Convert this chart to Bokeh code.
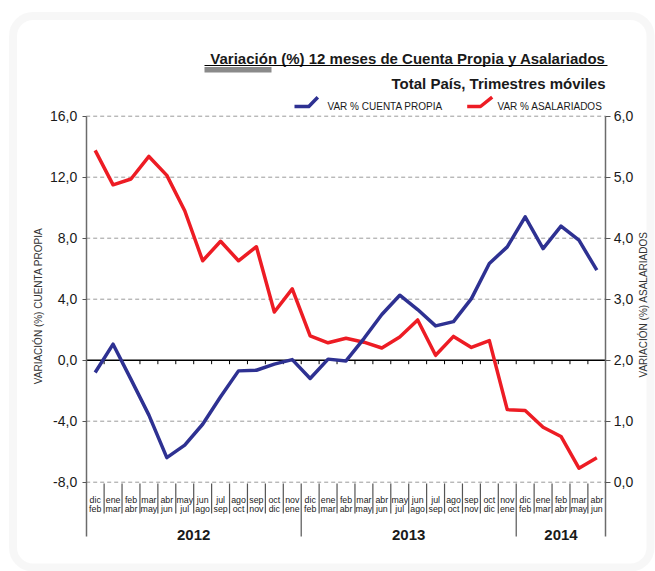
import math
from bokeh.plotting import figure
from bokeh.models import (Range1d, LinearAxis, FixedTicker, BoxAnnotation, CustomJSTickFormatter)
from bokeh.core.properties import value
from bokeh.embed import file_html
from bokeh.resources import INLINE

# ---------------- data ----------------
cat_top = ["dic", "ene", "feb", "mar", "abr", "may", "jun", "jul", "ago", "sep", "oct", "nov",
           "dic", "ene", "feb", "mar", "abr", "may", "jun", "jul", "ago", "sep", "oct", "nov",
           "dic", "ene", "feb", "mar", "abr"]
cat_bottom = ["feb", "mar", "abr", "may", "jun", "jul", "ago", "sep", "oct", "nov", "dic", "ene",
              "feb", "mar", "abr", "may", "jun", "jul", "ago", "sep", "oct", "nov", "dic", "ene",
              "feb", "mar", "abr", "may", "jun"]
years = ["2012", "2013", "2014"]
year_counts = [12, 12, 5]

cuenta_propia = [-0.81, 1.05, -1.26, -3.6, -6.39, -5.57, -4.2, -2.4, -0.70, -0.66, -0.26, 0.04,
                 -1.2, 0.07, -0.05, 1.42, 3.0, 4.26, 3.32, 2.25, 2.53, 4.04, 6.34, 7.43, 9.4,
                 7.32, 8.79, 7.87, 5.9]
asalariados = [5.44, 4.875, 4.97, 5.34, 5.03, 4.45, 3.63, 3.95, 3.63, 3.86, 2.79, 3.17, 2.40,
               2.285, 2.36, 2.295, 2.20, 2.38, 2.66, 2.08, 2.39, 2.21, 2.32, 1.19, 1.175, 0.90,
               0.75, 0.23, 0.40]

left_ticks = [-8, -4, 0, 4, 8, 12, 16]
right_ticks = [0, 1, 2, 3, 4, 5, 6]

title1 = "Variación (%) 12 meses de Cuenta Propia y Asalariados"
title2 = "Total País, Trimestres móviles"
name_cp = "VAR % CUENTA PROPIA"
name_as = "VAR % ASALARIADOS"
ylabel_left = "VARIACIÓN (%) CUENTA PROPIA"
ylabel_right = "VARIACIÓN (%) ASALARIADOS"

# ---------------- layout (canvas pixels) ----------------
W, H = 655, 571
N = len(cat_top)
AX_L, AX_R = 85.7, 605.3        # x pixel of left / right axis
Y_TOP, Y_BOT = 115.7, 481.7     # y pixel of top / bottom tick
L0, L1 = left_ticks[0], left_ticks[-1]
R0, R1 = right_ticks[0], right_ticks[-1]
XS = (AX_R - AX_L) / N
YS = (Y_BOT - Y_TOP) / (L1 - L0)

def xd(px):
    return (px - AX_L) / XS

def yd(py):
    return L1 - (py - Y_TOP) / YS

def to_right(v):
    return R0 + (v - L0) * (R1 - R0) / (L1 - L0)

FONT = "Liberation Sans"
BLUE = "#2E3192"
RED = "#ED1C24"
TXT = "#1a1a1a"

p = figure(width=W, height=H, output_backend="svg", toolbar_location=None,
           x_range=Range1d(xd(0), xd(W)), y_range=Range1d(yd(H), yd(0)),
           x_axis_location=None, y_axis_location=None, min_border=0)
p.outline_line_color = None
p.background_fill_color = "white"
p.border_fill_color = "white"
p.xgrid.visible = False
p.ygrid.visible = False

# rounded outer frame
p.add_layout(BoxAnnotation(left=xd(12.5), right=xd(650), top=yd(15.5), bottom=yd(567),
                           fill_color=None, line_color="#e4e4e4", line_width=8,
                           border_radius=20, level="underlay"))

fmt = CustomJSTickFormatter(code="return tick.toFixed(1).replace('.', ',');")
y_axis_bottom = yd(536)

def style_axis(a, tick_out, standoff):
    a.formatter = fmt
    a.axis_line_color = "#6b6b6b"
    a.axis_line_width = 1.5
    a.major_tick_line_color = "#555555"
    a.major_tick_out = tick_out
    a.major_tick_in = 0
    a.minor_tick_line_color = None
    a.major_label_standoff = standoff
    a.major_label_text_font = FONT
    a.major_label_text_font_size = "14px"
    a.major_label_text_color = TXT

lax = LinearAxis(ticker=FixedTicker(ticks=left_ticks), fixed_location=0,
                 bounds=(y_axis_bottom, L1))
style_axis(lax, 4, 5)
p.add_layout(lax, "left")

p.extra_y_ranges = {"right": Range1d(to_right(yd(H)), to_right(yd(0)))}
rax = LinearAxis(y_range_name="right", ticker=FixedTicker(ticks=right_ticks), fixed_location=N,
                 bounds=(to_right(y_axis_bottom), R1))
style_axis(rax, 5, 3)
p.add_layout(rax, "right")

# dashed grid
gt = [t for t in left_ticks if t != 0]
p.segment(x0=[0] * len(gt), y0=gt, x1=[N] * len(gt), y1=gt, line_color="#9a9a9a",
          line_width=1, line_dash="4 3")
# zero line and its small ticks
p.segment(x0=[0], y0=[0], x1=[N], y1=[0], line_color="black", line_width=1.5)
bounds = list(range(1, N))
tick_len = 4 / YS
p.segment(x0=bounds, y0=[0] * len(bounds), x1=bounds, y1=[-tick_len] * len(bounds),
          line_color="black", line_width=1)

# category separators / year separators
year_bounds = []
acc = 0
for c in year_counts[:-1]:
    acc += c
    year_bounds.append(acc)
sep_x = [b for b in bounds if b not in year_bounds]
p.segment(x0=sep_x, y0=[yd(483)] * len(sep_x), x1=sep_x, y1=[yd(513)] * len(sep_x),
          line_color="#555555", line_width=1.2)
p.segment(x0=year_bounds, y0=[yd(483)] * len(year_bounds), x1=year_bounds,
          y1=[y_axis_bottom] * len(year_bounds), line_color="#555555", line_width=1.2)

centers = [i + 0.5 for i in range(N)]
p.text(x=centers, y=[yd(499.5)] * N, text=cat_top, text_align="center",
       text_baseline="alphabetic", text_font=value(FONT), text_font_size="8.8px",
       text_color=TXT)
p.text(x=centers, y=[yd(508.5)] * N, text=cat_bottom, text_align="center",
       text_baseline="alphabetic", text_font=value(FONT), text_font_size="8.8px",
       text_color=TXT)

year_mid = []
acc = 0
for c in year_counts:
    year_mid.append(acc + c / 2)
    acc += c
p.text(x=year_mid, y=[yd(534)] * len(years), text=years, text_align="center",
       text_baseline="alphabetic", text_font=value(FONT), text_font_size="15px",
       text_font_style="bold", text_color=TXT)

# data lines
p.line(centers, asalariados, y_range_name="right", line_color=RED, line_width=3.5,
       line_join="round")
p.line(centers, cuenta_propia, line_color=BLUE, line_width=3.5, line_join="round")

# titles
p.text(x=[xd(605)], y=[yd(58.3)], text=[title1], text_align="right",
       text_baseline="alphabetic", text_font=value(FONT), text_font_size="15px",
       text_font_style="bold", text_color=TXT)
p.segment(x0=[xd(204)], y0=[yd(65)], x1=[xd(607)], y1=[yd(65)], line_color="black",
          line_width=1.2)
p.segment(x0=[xd(204)], y0=[yd(69.2)], x1=[xd(271)], y1=[yd(69.2)], line_color="#8a8a8a",
          line_width=5.5)
p.text(x=[xd(605)], y=[yd(83.3)], text=[title2], text_align="right",
       text_baseline="alphabetic", text_font=value(FONT), text_font_size="15px",
       text_font_style="bold", text_color=TXT)

# legend
for (x0, x1, x2, tx, color, name) in [(294, 308.3, 317.3, 327, BLUE, name_cp),
                                       (466.7, 480, 491.7, 497, RED, name_as)]:
    p.line(x=[xd(x0), xd(x1), xd(x2)], y=[yd(106), yd(106), yd(96.7)], line_color=color,
           line_width=3.5, line_join="round")
    p.text(x=[xd(tx)], y=[yd(106)], text=[name], text_align="left",
           text_baseline="alphabetic", text_font=value(FONT), text_font_size="10px",
           text_color=TXT)

# axis titles
p.text(x=[xd(38)], y=[yd(305.5)], text=[ylabel_left], angle=math.pi / 2,
       text_align="center", text_baseline="middle", text_font=value(FONT),
       text_font_size="10px", text_color="#333333")
p.text(x=[xd(643)], y=[yd(304)], text=[ylabel_right], angle=math.pi / 2,
       text_align="center", text_baseline="middle", text_font=value(FONT),
       text_font_size="10px", text_color="#333333")

open("out.html", "w").write(file_html(p, INLINE))
